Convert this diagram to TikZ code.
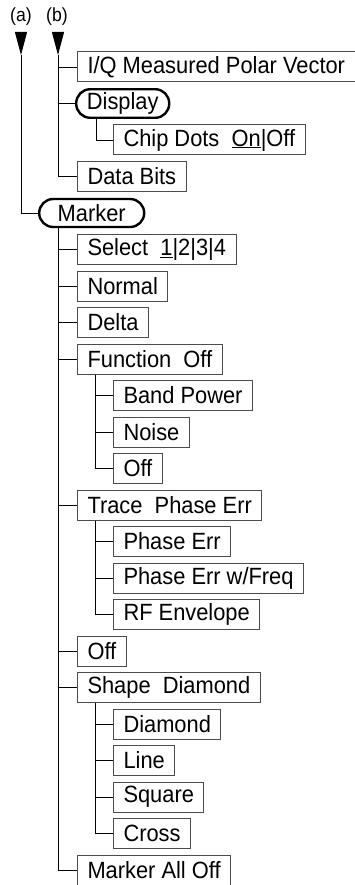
\documentclass[tikz,border=0pt]{standalone}
\usepackage{fontspec}
\setmainfont[FakeStretch=0.93]{Liberation Sans}
\usetikzlibrary{arrows.meta}

\begin{document}
\begin{tikzpicture}[x=1pt, y=-1pt,
    menubox/.style={draw=black!70, line width=1pt, anchor=west, inner xsep=10pt,
                    minimum height=30pt, font=\fontsize{23.5}{26}\selectfont},
    keybox/.style={draw, line width=2.4pt, rounded corners=14pt, anchor=west,
                   minimum height=28pt, font=\fontsize{23.5}{26}\selectfont},
    branch/.style={line width=0.9pt},
    entry/.style={-{Triangle[length=23pt, width=12pt]}, line width=0.9pt}]
\useasboundingbox (0,0) rectangle (354,885);
% Entry points
\node[font=\fontsize{19}{20}\selectfont] (la) at (21,17) {(a)};
\node[font=\fontsize{19}{20}\selectfont] (lb) at (57,17) {(b)};
\coordinate (atop) at (21,32);
\coordinate (atip) at (21,55);
\coordinate (btop) at (58,32);
\coordinate (btip) at (58,55);
\draw[entry] (atop) -- (atip);
\draw[entry] (btop) -- (btip);
% (b): display menu
\node[menubox] (iq) at (77,67) {I/Q Measured Polar Vector};
\node[keybox, minimum width=93pt] (disp) at (75,103.5) {Display};
\node[menubox] (chip) at (113,140) {Chip Dots\ \ \underline{On}|Off};
\node[menubox] (bits) at (77,176.5) {Data Bits};
\foreach \n in {iq,disp,bits}
  \draw[branch] (btip) |- (\n.west);
\draw[branch] ([xshift=21pt]disp.south west) |- (chip.west);
% (a): marker menu
\node[keybox, minimum width=105pt] (mk) at (38,213) {Marker};
\draw[branch] (atip) |- (mk.west);
\node[menubox] (sel) at (77,249.5) {Select\ \ \underline{1}|2|3|4};
\node[menubox] (nrm) at (77,286) {Normal};
\node[menubox] (dlt) at (77,322.5) {Delta};
\node[menubox] (fn) at (77,359) {Function\ \ Off};
\node[menubox] (bp) at (113,395.5) {Band Power};
\node[menubox] (noi) at (113,432) {Noise};
\node[menubox] (fof) at (113,468.5) {Off};
\node[menubox] (trc) at (77,505) {Trace\ \ Phase Err};
\node[menubox] (pe) at (113,541.5) {Phase Err};
\node[menubox] (pef) at (113,578) {Phase Err w/Freq};
\node[menubox] (rfe) at (113,614.5) {RF Envelope};
\node[menubox] (off) at (77,651) {Off};
\node[menubox] (shp) at (77,687.5) {Shape\ \ Diamond};
\node[menubox] (dia) at (113,724) {Diamond};
\node[menubox] (lin) at (113,760.5) {Line};
\node[menubox] (sqr) at (113,797) {Square};
\node[menubox] (crs) at (113,833.5) {Cross};
\node[menubox] (mao) at (77,870) {Marker All Off};
\foreach \n in {sel,nrm,dlt,fn,trc,off,shp,mao}
  \draw[branch] ([xshift=20pt]mk.south west) |- (\n.west);
\foreach \n in {bp,noi,fof}
  \draw[branch] ([xshift=18pt]fn.south west) |- (\n.west);
\foreach \n in {pe,pef,rfe}
  \draw[branch] ([xshift=18pt]trc.south west) |- (\n.west);
\foreach \n in {dia,lin,sqr,crs}
  \draw[branch] ([xshift=18pt]shp.south west) |- (\n.west);
\end{tikzpicture}
\end{document}
